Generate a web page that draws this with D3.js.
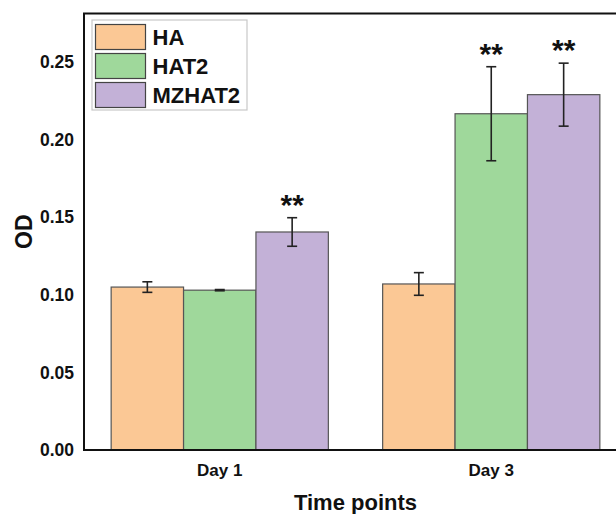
<html>
<head>
    <style>
        body { margin: 0; background: #fff; }
        text { font-family: "Liberation Sans", Arial, sans-serif; font-weight: bold; fill: #111; }
    </style>
</head>
<body>
    <svg id="container" width="616" height="514"></svg>
</body>
<script src="https://cdn.jsdelivr.net/npm/d3@7"></script>
<script>
    // data
    let days = ["Day 1", "Day 3"]
    let groups = ["HA", "HAT2", "MZHAT2"]
    let colors = ["#fbc895", "#9fd89b", "#c3b1d7"]
    let means = {
        "HA": [0.105, 0.107],
        "HAT2": [0.103, 0.2167],
        "MZHAT2": [0.1405, 0.229]
    }
    let errors = {
        "HA": [0.0034, 0.0073],
        "HAT2": [0.0004, 0.0303],
        "MZHAT2": [0.0092, 0.0203]
    }
    let stars = {
        "HA": ["", ""],
        "HAT2": ["", "**"],
        "MZHAT2": ["**", "**"]
    }
    let yTicks = [0, 0.05, 0.10, 0.15, 0.20, 0.25]

    let svg = d3.select("#container")
    let plotLeft = 84, plotTop = 13.5, plotBottom = 450, plotRight = 627

    let x = d3.scaleBand().domain(days).range([plotLeft, plotRight]).paddingInner(0.2).paddingOuter(0.1)
    let xg = d3.scaleBand().domain(groups).range([0, x.bandwidth()])
    let y = d3.scaleLinear().domain([0, 0.2813]).range([plotBottom, plotTop])
    let color = d3.scaleOrdinal().domain(groups).range(colors)

    // flatten into one row per bar
    let rows = []
    days.forEach((d, i) => groups.forEach(g => rows.push({
        day: d, group: g, mean: means[g][i], err: errors[g][i], star: stars[g][i]
    })))

    // bars
    svg.append("g").selectAll("rect")
        .data(rows)
        .enter()
        .append("rect")
            .attr("x", d => x(d.day) + xg(d.group))
            .attr("y", d => y(d.mean))
            .attr("width", xg.bandwidth())
            .attr("height", d => y(0) - y(d.mean))
            .attr("fill", d => color(d.group))
            .attr("stroke", "#555")
            .attr("stroke-width", 1.2)

    // error bars
    let eb = svg.append("g").attr("stroke", "#222").attr("stroke-width", 1.6)
    rows.forEach(d => {
        let cx = x(d.day) + xg(d.group) + xg.bandwidth() / 2
        eb.append("line").attr("x1", cx).attr("x2", cx)
            .attr("y1", y(d.mean - d.err)).attr("y2", y(d.mean + d.err))
        ;[d.mean - d.err, d.mean + d.err].forEach(v => {
            eb.append("line").attr("x1", cx - 5).attr("x2", cx + 5)
                .attr("y1", y(v)).attr("y2", y(v))
        })
    })

    // significance stars
    svg.append("g").selectAll("text")
        .data(rows.filter(d => d.star))
        .enter()
        .append("text")
            .attr("x", d => x(d.day) + xg(d.group) + xg.bandwidth() / 2)
            .attr("y", d => y(d.mean + d.err) - 3)
            .attr("text-anchor", "middle")
            .attr("font-size", 30)
            .text(d => d.star)

    // frame: left, bottom, top
    let frame = svg.append("g").attr("stroke", "#111").attr("stroke-width", 2).attr("fill", "none")
    frame.append("path").attr("d", `M${plotRight + 10},${plotTop} H${plotLeft} V${plotBottom} H${plotRight + 10}`)

    // y tick labels
    svg.append("g").selectAll("text")
        .data(yTicks)
        .enter()
        .append("text")
            .attr("x", plotLeft - 10)
            .attr("y", d => y(d))
            .attr("dy", "0.35em")
            .attr("text-anchor", "end")
            .attr("font-size", 17.5)
            .text(d => d3.format(".2f")(d))

    // x tick labels
    svg.append("g").selectAll("text")
        .data(days)
        .enter()
        .append("text")
            .attr("x", d => x(d) + x.bandwidth() / 2)
            .attr("y", plotBottom + 26)
            .attr("text-anchor", "middle")
            .attr("font-size", 17)
            .text(d => d)

    // axis titles
    svg.append("text")
        .attr("x", (plotLeft + plotRight) / 2)
        .attr("y", 510)
        .attr("text-anchor", "middle")
        .attr("font-size", 22)
        .text("Time points")
    svg.append("text")
        .attr("transform", `translate(32,${(plotTop + plotBottom) / 2}) rotate(-90)`)
        .attr("text-anchor", "middle")
        .attr("font-size", 23)
        .text("OD")

    // legend
    let legend = svg.append("g").attr("transform", "translate(92,20)")
    legend.append("rect").attr("width", 155).attr("height", 90)
        .attr("fill", "#fff").attr("stroke", "#c8c8c8").attr("stroke-width", 1.2)
    let items = legend.selectAll(".item")
        .data(groups)
        .enter()
        .append("g")
            .attr("transform", (d, i) => `translate(3.5,${4.5 + i * 29})`)
    items.append("rect").attr("width", 50).attr("height", 25)
        .attr("fill", d => color(d)).attr("stroke", "#444").attr("stroke-width", 1.2)
    items.append("text").attr("x", 57).attr("y", 12.5).attr("dy", "0.36em")
        .attr("font-size", 22).text(d => d)
</script>
</html>
